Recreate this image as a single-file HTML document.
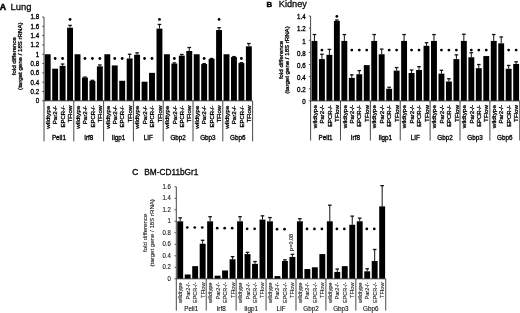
<!DOCTYPE html>
<html><head><meta charset="utf-8"><style>
html,body{margin:0;padding:0;background:#fff;}
body{width:520px;height:313px;overflow:hidden;}
svg{display:block;font-family:"Liberation Sans", sans-serif;filter:blur(0.4px);}
.bold text{fill:#000;stroke:#000;stroke-width:0.3px;}
.tt{stroke:#000;stroke-width:0.3px;}
.lite text{fill:#222;stroke:#222;stroke-width:0.12px;}
.lite text.gn{fill:#111;stroke:#111;stroke-width:0.12px;}
</style></head><body>
<svg width="520" height="313" viewBox="0 0 520 313">
<rect width="520" height="313" fill="#fff"/>
<text x="-0.2" y="10.3" font-size="8.8" font-weight="bold" fill="#000" stroke="#000" stroke-width="0.5">A</text>
<text x="10.4" y="9.7" font-size="9.9" textLength="21.0" lengthAdjust="spacingAndGlyphs" fill="#111" class="tt">Lung</text>
<text x="266.6" y="6.5" font-size="7.8" font-weight="bold" fill="#000" stroke="#000" stroke-width="0.45">B</text>
<text x="278.8" y="6.6" font-size="9.2" fill="#111" class="tt">Kidney</text>
<text x="132.3" y="175.4" font-size="8.3" fill="#111" stroke="#111" stroke-width="0.45">C</text>
<text x="144.2" y="175.4" font-size="8.3" fill="#111" class="tt">BM-CD11bGr1</text>
<g class="bold">
<line x1="44" y1="17.01" x2="44" y2="100.8" stroke="#333" stroke-width="0.9"/>
<line x1="42.2" y1="100.8" x2="44" y2="100.8" stroke="#333" stroke-width="0.8"/>
<text transform="translate(39.2,103.2) scale(1,1.06)" x="0" y="0" font-size="6.2" text-anchor="end" fill="#222">0</text>
<line x1="42.2" y1="91.49" x2="44" y2="91.49" stroke="#333" stroke-width="0.8"/>
<text transform="translate(39.2,93.89) scale(1,1.06)" x="0" y="0" font-size="6.2" text-anchor="end" fill="#222">0.2</text>
<line x1="42.2" y1="82.18" x2="44" y2="82.18" stroke="#333" stroke-width="0.8"/>
<text transform="translate(39.2,84.58) scale(1,1.06)" x="0" y="0" font-size="6.2" text-anchor="end" fill="#222">0.4</text>
<line x1="42.2" y1="72.87" x2="44" y2="72.87" stroke="#333" stroke-width="0.8"/>
<text transform="translate(39.2,75.27) scale(1,1.06)" x="0" y="0" font-size="6.2" text-anchor="end" fill="#222">0.6</text>
<line x1="42.2" y1="63.56" x2="44" y2="63.56" stroke="#333" stroke-width="0.8"/>
<text transform="translate(39.2,65.96) scale(1,1.06)" x="0" y="0" font-size="6.2" text-anchor="end" fill="#222">0.8</text>
<line x1="42.2" y1="54.25" x2="44" y2="54.25" stroke="#333" stroke-width="0.8"/>
<text transform="translate(39.2,56.65) scale(1,1.06)" x="0" y="0" font-size="6.2" text-anchor="end" fill="#222">1</text>
<line x1="42.2" y1="44.94" x2="44" y2="44.94" stroke="#333" stroke-width="0.8"/>
<text transform="translate(39.2,47.34) scale(1,1.06)" x="0" y="0" font-size="6.2" text-anchor="end" fill="#222">1.2</text>
<line x1="42.2" y1="35.63" x2="44" y2="35.63" stroke="#333" stroke-width="0.8"/>
<text transform="translate(39.2,38.03) scale(1,1.06)" x="0" y="0" font-size="6.2" text-anchor="end" fill="#222">1.4</text>
<line x1="42.2" y1="26.32" x2="44" y2="26.32" stroke="#333" stroke-width="0.8"/>
<text transform="translate(39.2,28.72) scale(1,1.06)" x="0" y="0" font-size="6.2" text-anchor="end" fill="#222">1.6</text>
<line x1="42.2" y1="17.01" x2="44" y2="17.01" stroke="#333" stroke-width="0.8"/>
<text transform="translate(39.2,19.41) scale(1,1.06)" x="0" y="0" font-size="6.2" text-anchor="end" fill="#222">1.8</text>
<text transform="translate(15.8,56.2) rotate(-90)" x="0" y="0" font-size="6.1" text-anchor="middle" fill="#222">fold difference</text>
<text transform="translate(22.3,56.2) rotate(-90)" x="0" y="0" font-size="6.1" text-anchor="middle" fill="#222">(target gene / 18S rRNA)</text>
<rect x="44.75" y="54.25" width="5.9" height="46.55" fill="#000"/>
<rect x="52.2" y="68.68" width="5.9" height="32.12" fill="#000"/>
<rect x="59.65" y="65.89" width="5.9" height="34.91" fill="#000"/>
<line x1="62.6" y1="65.89" x2="62.6" y2="64.03" stroke="#111" stroke-width="1.0"/>
<line x1="60.8" y1="64.03" x2="64.4" y2="64.03" stroke="#111" stroke-width="1.3"/>
<rect x="67.1" y="27.72" width="5.9" height="73.08" fill="#000"/>
<line x1="70.05" y1="27.72" x2="70.05" y2="25.39" stroke="#111" stroke-width="1.0"/>
<line x1="68.25" y1="25.39" x2="71.85" y2="25.39" stroke="#111" stroke-width="1.3"/>
<rect x="74.55" y="54.25" width="5.9" height="46.55" fill="#000"/>
<rect x="82" y="77.53" width="5.9" height="23.27" fill="#000"/>
<line x1="84.95" y1="77.53" x2="84.95" y2="77.06" stroke="#111" stroke-width="1.0"/>
<line x1="83.15" y1="77.06" x2="86.75" y2="77.06" stroke="#111" stroke-width="1.3"/>
<rect x="89.45" y="80.78" width="5.9" height="20.02" fill="#000"/>
<line x1="92.4" y1="80.78" x2="92.4" y2="80.32" stroke="#111" stroke-width="1.0"/>
<line x1="90.6" y1="80.32" x2="94.2" y2="80.32" stroke="#111" stroke-width="1.3"/>
<rect x="96.9" y="66.35" width="5.9" height="34.45" fill="#000"/>
<line x1="99.85" y1="66.35" x2="99.85" y2="64.96" stroke="#111" stroke-width="1.0"/>
<line x1="98.05" y1="64.96" x2="101.65" y2="64.96" stroke="#111" stroke-width="1.3"/>
<rect x="104.35" y="54.25" width="5.9" height="46.55" fill="#000"/>
<rect x="111.8" y="65.42" width="5.9" height="35.38" fill="#000"/>
<rect x="119.25" y="80.78" width="5.9" height="20.02" fill="#000"/>
<rect x="126.7" y="58.44" width="5.9" height="42.36" fill="#000"/>
<line x1="129.65" y1="58.44" x2="129.65" y2="54.25" stroke="#111" stroke-width="1.0"/>
<line x1="127.85" y1="54.25" x2="131.45" y2="54.25" stroke="#111" stroke-width="1.3"/>
<rect x="134.15" y="54.72" width="5.9" height="46.08" fill="#000"/>
<line x1="137.1" y1="54.72" x2="137.1" y2="52.85" stroke="#111" stroke-width="1.0"/>
<line x1="135.3" y1="52.85" x2="138.9" y2="52.85" stroke="#111" stroke-width="1.3"/>
<rect x="141.6" y="81.71" width="5.9" height="19.09" fill="#000"/>
<rect x="149.05" y="72.87" width="5.9" height="27.93" fill="#000"/>
<rect x="156.5" y="28.65" width="5.9" height="72.15" fill="#000"/>
<line x1="159.45" y1="28.65" x2="159.45" y2="24.46" stroke="#111" stroke-width="1.0"/>
<line x1="157.65" y1="24.46" x2="161.25" y2="24.46" stroke="#111" stroke-width="1.3"/>
<rect x="163.95" y="54.25" width="5.9" height="46.55" fill="#000"/>
<rect x="171.4" y="63.56" width="5.9" height="37.24" fill="#000"/>
<line x1="174.35" y1="63.56" x2="174.35" y2="62.86" stroke="#111" stroke-width="1.0"/>
<line x1="172.55" y1="62.86" x2="176.15" y2="62.86" stroke="#111" stroke-width="1.3"/>
<rect x="178.85" y="55.65" width="5.9" height="45.15" fill="#000"/>
<line x1="181.8" y1="55.65" x2="181.8" y2="54.48" stroke="#111" stroke-width="1.0"/>
<line x1="180" y1="54.48" x2="183.6" y2="54.48" stroke="#111" stroke-width="1.3"/>
<rect x="186.3" y="50.99" width="5.9" height="49.81" fill="#000"/>
<line x1="189.25" y1="50.99" x2="189.25" y2="47.5" stroke="#111" stroke-width="1.0"/>
<line x1="187.45" y1="47.5" x2="191.05" y2="47.5" stroke="#111" stroke-width="1.3"/>
<rect x="193.75" y="54.25" width="5.9" height="46.55" fill="#000"/>
<rect x="201.2" y="64.03" width="5.9" height="36.77" fill="#000"/>
<line x1="204.15" y1="64.03" x2="204.15" y2="63.56" stroke="#111" stroke-width="1.0"/>
<line x1="202.35" y1="63.56" x2="205.95" y2="63.56" stroke="#111" stroke-width="1.3"/>
<rect x="208.65" y="58.91" width="5.9" height="41.89" fill="#000"/>
<line x1="211.6" y1="58.91" x2="211.6" y2="58.44" stroke="#111" stroke-width="1.0"/>
<line x1="209.8" y1="58.44" x2="213.4" y2="58.44" stroke="#111" stroke-width="1.3"/>
<rect x="216.1" y="30.04" width="5.9" height="70.76" fill="#000"/>
<line x1="219.05" y1="30.04" x2="219.05" y2="27.72" stroke="#111" stroke-width="1.0"/>
<line x1="217.25" y1="27.72" x2="220.85" y2="27.72" stroke="#111" stroke-width="1.3"/>
<rect x="223.55" y="54.25" width="5.9" height="46.55" fill="#000"/>
<rect x="231" y="57.04" width="5.9" height="43.76" fill="#000"/>
<line x1="233.95" y1="57.04" x2="233.95" y2="56.58" stroke="#111" stroke-width="1.0"/>
<line x1="232.15" y1="56.58" x2="235.75" y2="56.58" stroke="#111" stroke-width="1.3"/>
<rect x="238.45" y="63.09" width="5.9" height="37.71" fill="#000"/>
<line x1="241.4" y1="63.09" x2="241.4" y2="62.63" stroke="#111" stroke-width="1.0"/>
<line x1="239.6" y1="62.63" x2="243.2" y2="62.63" stroke="#111" stroke-width="1.3"/>
<rect x="245.9" y="46.34" width="5.9" height="54.46" fill="#000"/>
<line x1="248.85" y1="46.34" x2="248.85" y2="43.54" stroke="#111" stroke-width="1.0"/>
<line x1="247.05" y1="43.54" x2="250.65" y2="43.54" stroke="#111" stroke-width="1.3"/>
<circle cx="55.15" cy="58.5" r="1.4" fill="#000"/>
<circle cx="62.6" cy="58.5" r="1.4" fill="#000"/>
<circle cx="84.95" cy="58.5" r="1.4" fill="#000"/>
<circle cx="92.4" cy="58.5" r="1.4" fill="#000"/>
<circle cx="99.85" cy="58.5" r="1.4" fill="#000"/>
<circle cx="114.75" cy="58.5" r="1.4" fill="#000"/>
<circle cx="122.2" cy="58.5" r="1.4" fill="#000"/>
<circle cx="144.55" cy="58.5" r="1.4" fill="#000"/>
<circle cx="152" cy="58.5" r="1.4" fill="#000"/>
<circle cx="174.35" cy="58.5" r="1.4" fill="#000"/>
<circle cx="204.15" cy="58.5" r="1.4" fill="#000"/>
<circle cx="241.4" cy="58.5" r="1.4" fill="#000"/>
<circle cx="70.05" cy="19.4" r="1.4" fill="#000"/>
<circle cx="159.45" cy="19.4" r="1.4" fill="#000"/>
<circle cx="219.05" cy="19.4" r="1.4" fill="#000"/>
<line x1="44" y1="100.8" x2="252.6" y2="100.8" stroke="#333" stroke-width="0.9"/>
<line x1="44" y1="100.8" x2="44" y2="141.4" stroke="#333" stroke-width="0.9"/>
<line x1="73.8" y1="100.8" x2="73.8" y2="141.4" stroke="#333" stroke-width="0.9"/>
<line x1="103.6" y1="100.8" x2="103.6" y2="141.4" stroke="#333" stroke-width="0.9"/>
<line x1="133.4" y1="100.8" x2="133.4" y2="141.4" stroke="#333" stroke-width="0.9"/>
<line x1="163.2" y1="100.8" x2="163.2" y2="141.4" stroke="#333" stroke-width="0.9"/>
<line x1="193" y1="100.8" x2="193" y2="141.4" stroke="#333" stroke-width="0.9"/>
<line x1="222.8" y1="100.8" x2="222.8" y2="141.4" stroke="#333" stroke-width="0.9"/>
<line x1="252.6" y1="100.8" x2="252.6" y2="141.4" stroke="#333" stroke-width="0.9"/>
<text transform="translate(49.9,105.6) rotate(-90)" x="-23.2" y="0" font-size="6.0" textLength="23.2" lengthAdjust="spacingAndGlyphs" fill="#222">wildtype</text>
<text transform="translate(57.35,105.6) rotate(-90)" x="-18.6" y="0" font-size="6.0" textLength="18.6" lengthAdjust="spacingAndGlyphs" fill="#222">Par2-/-</text>
<text transform="translate(64.8,105.6) rotate(-90)" x="-21.8" y="0" font-size="6.0" textLength="21.8" lengthAdjust="spacingAndGlyphs" fill="#222">EPCR-/-</text>
<text transform="translate(72.25,105.6) rotate(-90)" x="-16.9" y="0" font-size="6.0" textLength="16.9" lengthAdjust="spacingAndGlyphs" fill="#222">TFlow</text>
<text transform="translate(79.7,105.6) rotate(-90)" x="-23.2" y="0" font-size="6.0" textLength="23.2" lengthAdjust="spacingAndGlyphs" fill="#222">wildtype</text>
<text transform="translate(87.15,105.6) rotate(-90)" x="-18.6" y="0" font-size="6.0" textLength="18.6" lengthAdjust="spacingAndGlyphs" fill="#222">Par2-/-</text>
<text transform="translate(94.6,105.6) rotate(-90)" x="-21.8" y="0" font-size="6.0" textLength="21.8" lengthAdjust="spacingAndGlyphs" fill="#222">EPCR-/-</text>
<text transform="translate(102.05,105.6) rotate(-90)" x="-16.9" y="0" font-size="6.0" textLength="16.9" lengthAdjust="spacingAndGlyphs" fill="#222">TFlow</text>
<text transform="translate(109.5,105.6) rotate(-90)" x="-23.2" y="0" font-size="6.0" textLength="23.2" lengthAdjust="spacingAndGlyphs" fill="#222">wildtype</text>
<text transform="translate(116.95,105.6) rotate(-90)" x="-18.6" y="0" font-size="6.0" textLength="18.6" lengthAdjust="spacingAndGlyphs" fill="#222">Par2-/-</text>
<text transform="translate(124.4,105.6) rotate(-90)" x="-21.8" y="0" font-size="6.0" textLength="21.8" lengthAdjust="spacingAndGlyphs" fill="#222">EPCR-/-</text>
<text transform="translate(131.85,105.6) rotate(-90)" x="-16.9" y="0" font-size="6.0" textLength="16.9" lengthAdjust="spacingAndGlyphs" fill="#222">TFlow</text>
<text transform="translate(139.3,105.6) rotate(-90)" x="-23.2" y="0" font-size="6.0" textLength="23.2" lengthAdjust="spacingAndGlyphs" fill="#222">wildtype</text>
<text transform="translate(146.75,105.6) rotate(-90)" x="-18.6" y="0" font-size="6.0" textLength="18.6" lengthAdjust="spacingAndGlyphs" fill="#222">Par2-/-</text>
<text transform="translate(154.2,105.6) rotate(-90)" x="-21.8" y="0" font-size="6.0" textLength="21.8" lengthAdjust="spacingAndGlyphs" fill="#222">EPCR-/-</text>
<text transform="translate(161.65,105.6) rotate(-90)" x="-16.9" y="0" font-size="6.0" textLength="16.9" lengthAdjust="spacingAndGlyphs" fill="#222">TFlow</text>
<text transform="translate(169.1,105.6) rotate(-90)" x="-23.2" y="0" font-size="6.0" textLength="23.2" lengthAdjust="spacingAndGlyphs" fill="#222">wildtype</text>
<text transform="translate(176.55,105.6) rotate(-90)" x="-18.6" y="0" font-size="6.0" textLength="18.6" lengthAdjust="spacingAndGlyphs" fill="#222">Par2-/-</text>
<text transform="translate(184,105.6) rotate(-90)" x="-21.8" y="0" font-size="6.0" textLength="21.8" lengthAdjust="spacingAndGlyphs" fill="#222">EPCR-/-</text>
<text transform="translate(191.45,105.6) rotate(-90)" x="-16.9" y="0" font-size="6.0" textLength="16.9" lengthAdjust="spacingAndGlyphs" fill="#222">TFlow</text>
<text transform="translate(198.9,105.6) rotate(-90)" x="-23.2" y="0" font-size="6.0" textLength="23.2" lengthAdjust="spacingAndGlyphs" fill="#222">wildtype</text>
<text transform="translate(206.35,105.6) rotate(-90)" x="-18.6" y="0" font-size="6.0" textLength="18.6" lengthAdjust="spacingAndGlyphs" fill="#222">Par2-/-</text>
<text transform="translate(213.8,105.6) rotate(-90)" x="-21.8" y="0" font-size="6.0" textLength="21.8" lengthAdjust="spacingAndGlyphs" fill="#222">EPCR-/-</text>
<text transform="translate(221.25,105.6) rotate(-90)" x="-16.9" y="0" font-size="6.0" textLength="16.9" lengthAdjust="spacingAndGlyphs" fill="#222">TFlow</text>
<text transform="translate(228.7,105.6) rotate(-90)" x="-23.2" y="0" font-size="6.0" textLength="23.2" lengthAdjust="spacingAndGlyphs" fill="#222">wildtype</text>
<text transform="translate(236.15,105.6) rotate(-90)" x="-18.6" y="0" font-size="6.0" textLength="18.6" lengthAdjust="spacingAndGlyphs" fill="#222">Par2-/-</text>
<text transform="translate(243.6,105.6) rotate(-90)" x="-21.8" y="0" font-size="6.0" textLength="21.8" lengthAdjust="spacingAndGlyphs" fill="#222">EPCR-/-</text>
<text transform="translate(251.05,105.6) rotate(-90)" x="-16.9" y="0" font-size="6.0" textLength="16.9" lengthAdjust="spacingAndGlyphs" fill="#222">TFlow</text>
<text x="58.9" y="139.8" font-size="6.3" text-anchor="middle" fill="#111" class="gn">Peli1</text>
<text x="88.7" y="139.8" font-size="6.3" text-anchor="middle" fill="#111" class="gn">Irf8</text>
<text x="118.5" y="139.8" font-size="6.3" text-anchor="middle" fill="#111" class="gn">Iigp1</text>
<text x="148.3" y="139.8" font-size="6.3" text-anchor="middle" fill="#111" class="gn">LIF</text>
<text x="178.1" y="139.8" font-size="6.3" text-anchor="middle" fill="#111" class="gn">Gbp2</text>
<text x="207.9" y="139.8" font-size="6.3" text-anchor="middle" fill="#111" class="gn">Gbp3</text>
<text x="237.7" y="139.8" font-size="6.3" text-anchor="middle" fill="#111" class="gn">Gbp6</text>
</g>
<g class="bold">
<line x1="310.6" y1="16.06" x2="310.6" y2="100.9" stroke="#333" stroke-width="0.9"/>
<line x1="308.8" y1="100.9" x2="310.6" y2="100.9" stroke="#333" stroke-width="0.8"/>
<text transform="translate(305.6,104.1) scale(1,1.15)" x="0" y="0" font-size="6.2" text-anchor="end" fill="#222">0</text>
<line x1="308.8" y1="88.78" x2="310.6" y2="88.78" stroke="#333" stroke-width="0.8"/>
<text transform="translate(305.6,91.98) scale(1,1.15)" x="0" y="0" font-size="6.2" text-anchor="end" fill="#222">0.2</text>
<line x1="308.8" y1="76.66" x2="310.6" y2="76.66" stroke="#333" stroke-width="0.8"/>
<text transform="translate(305.6,79.86) scale(1,1.15)" x="0" y="0" font-size="6.2" text-anchor="end" fill="#222">0.4</text>
<line x1="308.8" y1="64.54" x2="310.6" y2="64.54" stroke="#333" stroke-width="0.8"/>
<text transform="translate(305.6,67.74) scale(1,1.15)" x="0" y="0" font-size="6.2" text-anchor="end" fill="#222">0.6</text>
<line x1="308.8" y1="52.42" x2="310.6" y2="52.42" stroke="#333" stroke-width="0.8"/>
<text transform="translate(305.6,55.62) scale(1,1.15)" x="0" y="0" font-size="6.2" text-anchor="end" fill="#222">0.8</text>
<line x1="308.8" y1="40.3" x2="310.6" y2="40.3" stroke="#333" stroke-width="0.8"/>
<text transform="translate(305.6,43.5) scale(1,1.15)" x="0" y="0" font-size="6.2" text-anchor="end" fill="#222">1</text>
<line x1="308.8" y1="28.18" x2="310.6" y2="28.18" stroke="#333" stroke-width="0.8"/>
<text transform="translate(305.6,31.38) scale(1,1.15)" x="0" y="0" font-size="6.2" text-anchor="end" fill="#222">1.2</text>
<line x1="308.8" y1="16.06" x2="310.6" y2="16.06" stroke="#333" stroke-width="0.8"/>
<text transform="translate(305.6,19.26) scale(1,1.15)" x="0" y="0" font-size="6.2" text-anchor="end" fill="#222">1.4</text>
<text transform="translate(283.2,60) rotate(-90)" x="0" y="0" font-size="6.1" text-anchor="middle" fill="#222">fold difference</text>
<text transform="translate(289,60) rotate(-90)" x="0" y="0" font-size="6.1" text-anchor="middle" fill="#222">(target gene / 18S rRNA)</text>
<rect x="311.5" y="40.91" width="5.9" height="59.99" fill="#000"/>
<line x1="314.45" y1="40.91" x2="314.45" y2="34.54" stroke="#111" stroke-width="1.0"/>
<line x1="312.65" y1="34.54" x2="316.25" y2="34.54" stroke="#111" stroke-width="1.3"/>
<rect x="318.97" y="59.09" width="5.9" height="41.81" fill="#000"/>
<line x1="321.92" y1="59.09" x2="321.92" y2="54.24" stroke="#111" stroke-width="1.0"/>
<line x1="320.12" y1="54.24" x2="323.72" y2="54.24" stroke="#111" stroke-width="1.3"/>
<rect x="326.44" y="54.84" width="5.9" height="46.06" fill="#000"/>
<line x1="329.39" y1="54.84" x2="329.39" y2="49.39" stroke="#111" stroke-width="1.0"/>
<line x1="327.59" y1="49.39" x2="331.19" y2="49.39" stroke="#111" stroke-width="1.3"/>
<rect x="333.91" y="20.91" width="5.9" height="79.99" fill="#000"/>
<line x1="336.86" y1="20.91" x2="336.86" y2="20" stroke="#111" stroke-width="1.0"/>
<line x1="335.06" y1="20" x2="338.66" y2="20" stroke="#111" stroke-width="1.3"/>
<rect x="341.38" y="40.91" width="5.9" height="59.99" fill="#000"/>
<line x1="344.33" y1="40.91" x2="344.33" y2="34.54" stroke="#111" stroke-width="1.0"/>
<line x1="342.53" y1="34.54" x2="346.13" y2="34.54" stroke="#111" stroke-width="1.3"/>
<rect x="348.85" y="77.87" width="5.9" height="23.03" fill="#000"/>
<line x1="351.8" y1="77.87" x2="351.8" y2="74.84" stroke="#111" stroke-width="1.0"/>
<line x1="350" y1="74.84" x2="353.6" y2="74.84" stroke="#111" stroke-width="1.3"/>
<rect x="356.32" y="74.24" width="5.9" height="26.66" fill="#000"/>
<line x1="359.27" y1="74.24" x2="359.27" y2="70.6" stroke="#111" stroke-width="1.0"/>
<line x1="357.47" y1="70.6" x2="361.07" y2="70.6" stroke="#111" stroke-width="1.3"/>
<rect x="363.79" y="65.15" width="5.9" height="35.75" fill="#000"/>
<rect x="371.26" y="40.91" width="5.9" height="59.99" fill="#000"/>
<line x1="374.21" y1="40.91" x2="374.21" y2="34.54" stroke="#111" stroke-width="1.0"/>
<line x1="372.41" y1="34.54" x2="376.01" y2="34.54" stroke="#111" stroke-width="1.3"/>
<rect x="378.73" y="54.24" width="5.9" height="46.66" fill="#000"/>
<line x1="381.68" y1="54.24" x2="381.68" y2="49.09" stroke="#111" stroke-width="1.0"/>
<line x1="379.88" y1="49.09" x2="383.48" y2="49.09" stroke="#111" stroke-width="1.3"/>
<rect x="386.2" y="88.78" width="5.9" height="12.12" fill="#000"/>
<line x1="389.15" y1="88.78" x2="389.15" y2="87.27" stroke="#111" stroke-width="1.0"/>
<line x1="387.35" y1="87.27" x2="390.95" y2="87.27" stroke="#111" stroke-width="1.3"/>
<rect x="393.67" y="70.6" width="5.9" height="30.3" fill="#000"/>
<line x1="396.62" y1="70.6" x2="396.62" y2="67.57" stroke="#111" stroke-width="1.0"/>
<line x1="394.82" y1="67.57" x2="398.42" y2="67.57" stroke="#111" stroke-width="1.3"/>
<rect x="401.14" y="40.91" width="5.9" height="59.99" fill="#000"/>
<line x1="404.09" y1="40.91" x2="404.09" y2="34.54" stroke="#111" stroke-width="1.0"/>
<line x1="402.29" y1="34.54" x2="405.89" y2="34.54" stroke="#111" stroke-width="1.3"/>
<rect x="408.61" y="73.02" width="5.9" height="27.88" fill="#000"/>
<line x1="411.56" y1="73.02" x2="411.56" y2="69.99" stroke="#111" stroke-width="1.0"/>
<line x1="409.76" y1="69.99" x2="413.36" y2="69.99" stroke="#111" stroke-width="1.3"/>
<rect x="416.08" y="69.99" width="5.9" height="30.91" fill="#000"/>
<line x1="419.03" y1="69.99" x2="419.03" y2="66.66" stroke="#111" stroke-width="1.0"/>
<line x1="417.23" y1="66.66" x2="420.83" y2="66.66" stroke="#111" stroke-width="1.3"/>
<rect x="423.55" y="45.75" width="5.9" height="55.15" fill="#000"/>
<line x1="426.5" y1="45.75" x2="426.5" y2="42.72" stroke="#111" stroke-width="1.0"/>
<line x1="424.7" y1="42.72" x2="428.3" y2="42.72" stroke="#111" stroke-width="1.3"/>
<rect x="431.02" y="40.91" width="5.9" height="59.99" fill="#000"/>
<line x1="433.97" y1="40.91" x2="433.97" y2="34.54" stroke="#111" stroke-width="1.0"/>
<line x1="432.17" y1="34.54" x2="435.77" y2="34.54" stroke="#111" stroke-width="1.3"/>
<rect x="438.49" y="73.63" width="5.9" height="27.27" fill="#000"/>
<line x1="441.44" y1="73.63" x2="441.44" y2="70.3" stroke="#111" stroke-width="1.0"/>
<line x1="439.64" y1="70.3" x2="443.24" y2="70.3" stroke="#111" stroke-width="1.3"/>
<rect x="445.96" y="81.51" width="5.9" height="19.39" fill="#000"/>
<line x1="448.91" y1="81.51" x2="448.91" y2="78.78" stroke="#111" stroke-width="1.0"/>
<line x1="447.11" y1="78.78" x2="450.71" y2="78.78" stroke="#111" stroke-width="1.3"/>
<rect x="453.43" y="59.09" width="5.9" height="41.81" fill="#000"/>
<line x1="456.38" y1="59.09" x2="456.38" y2="54.84" stroke="#111" stroke-width="1.0"/>
<line x1="454.58" y1="54.84" x2="458.18" y2="54.84" stroke="#111" stroke-width="1.3"/>
<rect x="460.9" y="40.91" width="5.9" height="59.99" fill="#000"/>
<line x1="463.85" y1="40.91" x2="463.85" y2="34.24" stroke="#111" stroke-width="1.0"/>
<line x1="462.05" y1="34.24" x2="465.65" y2="34.24" stroke="#111" stroke-width="1.3"/>
<rect x="468.37" y="57.27" width="5.9" height="43.63" fill="#000"/>
<line x1="471.32" y1="57.27" x2="471.32" y2="52.72" stroke="#111" stroke-width="1.0"/>
<line x1="469.52" y1="52.72" x2="473.12" y2="52.72" stroke="#111" stroke-width="1.3"/>
<rect x="475.84" y="68.18" width="5.9" height="32.72" fill="#000"/>
<line x1="478.79" y1="68.18" x2="478.79" y2="64.54" stroke="#111" stroke-width="1.0"/>
<line x1="476.99" y1="64.54" x2="480.59" y2="64.54" stroke="#111" stroke-width="1.3"/>
<rect x="483.31" y="56.06" width="5.9" height="44.84" fill="#000"/>
<rect x="490.78" y="40.91" width="5.9" height="59.99" fill="#000"/>
<line x1="493.73" y1="40.91" x2="493.73" y2="34.54" stroke="#111" stroke-width="1.0"/>
<line x1="491.93" y1="34.54" x2="495.53" y2="34.54" stroke="#111" stroke-width="1.3"/>
<rect x="498.25" y="43.33" width="5.9" height="57.57" fill="#000"/>
<line x1="501.2" y1="43.33" x2="501.2" y2="36.97" stroke="#111" stroke-width="1.0"/>
<line x1="499.4" y1="36.97" x2="503" y2="36.97" stroke="#111" stroke-width="1.3"/>
<rect x="505.72" y="68.78" width="5.9" height="32.12" fill="#000"/>
<line x1="508.67" y1="68.78" x2="508.67" y2="65.45" stroke="#111" stroke-width="1.0"/>
<line x1="506.87" y1="65.45" x2="510.47" y2="65.45" stroke="#111" stroke-width="1.3"/>
<rect x="513.19" y="63.93" width="5.9" height="36.97" fill="#000"/>
<line x1="516.14" y1="63.93" x2="516.14" y2="61.81" stroke="#111" stroke-width="1.0"/>
<line x1="514.34" y1="61.81" x2="517.94" y2="61.81" stroke="#111" stroke-width="1.3"/>
<circle cx="321.92" cy="50.1" r="1.4" fill="#000"/>
<circle cx="351.8" cy="50.1" r="1.4" fill="#000"/>
<circle cx="359.27" cy="50.1" r="1.4" fill="#000"/>
<circle cx="366.74" cy="50.1" r="1.4" fill="#000"/>
<circle cx="389.15" cy="50.1" r="1.4" fill="#000"/>
<circle cx="396.62" cy="50.1" r="1.4" fill="#000"/>
<circle cx="411.56" cy="50.1" r="1.4" fill="#000"/>
<circle cx="419.03" cy="50.1" r="1.4" fill="#000"/>
<circle cx="441.44" cy="50.1" r="1.4" fill="#000"/>
<circle cx="448.91" cy="50.1" r="1.4" fill="#000"/>
<circle cx="456.38" cy="50.1" r="1.4" fill="#000"/>
<circle cx="471.32" cy="50.1" r="1.4" fill="#000"/>
<circle cx="478.79" cy="50.1" r="1.4" fill="#000"/>
<circle cx="486.26" cy="50.1" r="1.4" fill="#000"/>
<circle cx="508.67" cy="50.1" r="1.4" fill="#000"/>
<circle cx="516.14" cy="50.1" r="1.4" fill="#000"/>
<circle cx="336.86" cy="16.4" r="1.4" fill="#000"/>
<line x1="310.6" y1="100.9" x2="519.76" y2="100.9" stroke="#333" stroke-width="0.9"/>
<line x1="310.6" y1="100.9" x2="310.6" y2="140.5" stroke="#333" stroke-width="0.9"/>
<line x1="340.48" y1="100.9" x2="340.48" y2="140.5" stroke="#333" stroke-width="0.9"/>
<line x1="370.36" y1="100.9" x2="370.36" y2="140.5" stroke="#333" stroke-width="0.9"/>
<line x1="400.24" y1="100.9" x2="400.24" y2="140.5" stroke="#333" stroke-width="0.9"/>
<line x1="430.12" y1="100.9" x2="430.12" y2="140.5" stroke="#333" stroke-width="0.9"/>
<line x1="460" y1="100.9" x2="460" y2="140.5" stroke="#333" stroke-width="0.9"/>
<line x1="489.88" y1="100.9" x2="489.88" y2="140.5" stroke="#333" stroke-width="0.9"/>
<line x1="519.76" y1="100.9" x2="519.76" y2="140.5" stroke="#333" stroke-width="0.9"/>
<text transform="translate(316.65,105) rotate(-90)" x="-23.2" y="0" font-size="6.0" textLength="23.2" lengthAdjust="spacingAndGlyphs" fill="#222">wildtype</text>
<text transform="translate(324.12,105) rotate(-90)" x="-18.6" y="0" font-size="6.0" textLength="18.6" lengthAdjust="spacingAndGlyphs" fill="#222">Par2-/-</text>
<text transform="translate(331.59,105) rotate(-90)" x="-21.8" y="0" font-size="6.0" textLength="21.8" lengthAdjust="spacingAndGlyphs" fill="#222">EPCR-/-</text>
<text transform="translate(339.06,105) rotate(-90)" x="-16.9" y="0" font-size="6.0" textLength="16.9" lengthAdjust="spacingAndGlyphs" fill="#222">TFlow</text>
<text transform="translate(346.53,105) rotate(-90)" x="-23.2" y="0" font-size="6.0" textLength="23.2" lengthAdjust="spacingAndGlyphs" fill="#222">wildtype</text>
<text transform="translate(354,105) rotate(-90)" x="-18.6" y="0" font-size="6.0" textLength="18.6" lengthAdjust="spacingAndGlyphs" fill="#222">Par2-/-</text>
<text transform="translate(361.47,105) rotate(-90)" x="-21.8" y="0" font-size="6.0" textLength="21.8" lengthAdjust="spacingAndGlyphs" fill="#222">EPCR-/-</text>
<text transform="translate(368.94,105) rotate(-90)" x="-16.9" y="0" font-size="6.0" textLength="16.9" lengthAdjust="spacingAndGlyphs" fill="#222">TFlow</text>
<text transform="translate(376.41,105) rotate(-90)" x="-23.2" y="0" font-size="6.0" textLength="23.2" lengthAdjust="spacingAndGlyphs" fill="#222">wildtype</text>
<text transform="translate(383.88,105) rotate(-90)" x="-18.6" y="0" font-size="6.0" textLength="18.6" lengthAdjust="spacingAndGlyphs" fill="#222">Par2-/-</text>
<text transform="translate(391.35,105) rotate(-90)" x="-21.8" y="0" font-size="6.0" textLength="21.8" lengthAdjust="spacingAndGlyphs" fill="#222">EPCR-/-</text>
<text transform="translate(398.82,105) rotate(-90)" x="-16.9" y="0" font-size="6.0" textLength="16.9" lengthAdjust="spacingAndGlyphs" fill="#222">TFlow</text>
<text transform="translate(406.29,105) rotate(-90)" x="-23.2" y="0" font-size="6.0" textLength="23.2" lengthAdjust="spacingAndGlyphs" fill="#222">wildtype</text>
<text transform="translate(413.76,105) rotate(-90)" x="-18.6" y="0" font-size="6.0" textLength="18.6" lengthAdjust="spacingAndGlyphs" fill="#222">Par2-/-</text>
<text transform="translate(421.23,105) rotate(-90)" x="-21.8" y="0" font-size="6.0" textLength="21.8" lengthAdjust="spacingAndGlyphs" fill="#222">EPCR-/-</text>
<text transform="translate(428.7,105) rotate(-90)" x="-16.9" y="0" font-size="6.0" textLength="16.9" lengthAdjust="spacingAndGlyphs" fill="#222">TFlow</text>
<text transform="translate(436.17,105) rotate(-90)" x="-23.2" y="0" font-size="6.0" textLength="23.2" lengthAdjust="spacingAndGlyphs" fill="#222">wildtype</text>
<text transform="translate(443.64,105) rotate(-90)" x="-18.6" y="0" font-size="6.0" textLength="18.6" lengthAdjust="spacingAndGlyphs" fill="#222">Par2-/-</text>
<text transform="translate(451.11,105) rotate(-90)" x="-21.8" y="0" font-size="6.0" textLength="21.8" lengthAdjust="spacingAndGlyphs" fill="#222">EPCR-/-</text>
<text transform="translate(458.58,105) rotate(-90)" x="-16.9" y="0" font-size="6.0" textLength="16.9" lengthAdjust="spacingAndGlyphs" fill="#222">TFlow</text>
<text transform="translate(466.05,105) rotate(-90)" x="-23.2" y="0" font-size="6.0" textLength="23.2" lengthAdjust="spacingAndGlyphs" fill="#222">wildtype</text>
<text transform="translate(473.52,105) rotate(-90)" x="-18.6" y="0" font-size="6.0" textLength="18.6" lengthAdjust="spacingAndGlyphs" fill="#222">Par2-/-</text>
<text transform="translate(480.99,105) rotate(-90)" x="-21.8" y="0" font-size="6.0" textLength="21.8" lengthAdjust="spacingAndGlyphs" fill="#222">EPCR-/-</text>
<text transform="translate(488.46,105) rotate(-90)" x="-16.9" y="0" font-size="6.0" textLength="16.9" lengthAdjust="spacingAndGlyphs" fill="#222">TFlow</text>
<text transform="translate(495.93,105) rotate(-90)" x="-23.2" y="0" font-size="6.0" textLength="23.2" lengthAdjust="spacingAndGlyphs" fill="#222">wildtype</text>
<text transform="translate(503.4,105) rotate(-90)" x="-18.6" y="0" font-size="6.0" textLength="18.6" lengthAdjust="spacingAndGlyphs" fill="#222">Par2-/-</text>
<text transform="translate(510.87,105) rotate(-90)" x="-21.8" y="0" font-size="6.0" textLength="21.8" lengthAdjust="spacingAndGlyphs" fill="#222">EPCR-/-</text>
<text transform="translate(518.34,105) rotate(-90)" x="-16.9" y="0" font-size="6.0" textLength="16.9" lengthAdjust="spacingAndGlyphs" fill="#222">TFlow</text>
<text x="325.54" y="139.6" font-size="6.3" text-anchor="middle" fill="#111" class="gn">Peli1</text>
<text x="355.42" y="139.6" font-size="6.3" text-anchor="middle" fill="#111" class="gn">Irf8</text>
<text x="385.3" y="139.6" font-size="6.3" text-anchor="middle" fill="#111" class="gn">Iigp1</text>
<text x="415.18" y="139.6" font-size="6.3" text-anchor="middle" fill="#111" class="gn">LIF</text>
<text x="445.06" y="139.6" font-size="6.3" text-anchor="middle" fill="#111" class="gn">Gbp2</text>
<text x="474.94" y="139.6" font-size="6.3" text-anchor="middle" fill="#111" class="gn">Gbp3</text>
<text x="504.82" y="139.6" font-size="6.3" text-anchor="middle" fill="#111" class="gn">Gbp6</text>
</g>
<g class="lite">
<line x1="176.3" y1="186.8" x2="176.3" y2="278.8" stroke="#333" stroke-width="0.9"/>
<line x1="174.5" y1="278.8" x2="176.3" y2="278.8" stroke="#333" stroke-width="0.8"/>
<text transform="translate(170.8,280.8) scale(1,1.15)" x="0" y="0" font-size="6.0" text-anchor="end" fill="#222">0</text>
<line x1="174.5" y1="267.3" x2="176.3" y2="267.3" stroke="#333" stroke-width="0.8"/>
<text transform="translate(170.8,269.3) scale(1,1.15)" x="0" y="0" font-size="6.0" text-anchor="end" fill="#222">0.2</text>
<line x1="174.5" y1="255.8" x2="176.3" y2="255.8" stroke="#333" stroke-width="0.8"/>
<text transform="translate(170.8,257.8) scale(1,1.15)" x="0" y="0" font-size="6.0" text-anchor="end" fill="#222">0.4</text>
<line x1="174.5" y1="244.3" x2="176.3" y2="244.3" stroke="#333" stroke-width="0.8"/>
<text transform="translate(170.8,246.3) scale(1,1.15)" x="0" y="0" font-size="6.0" text-anchor="end" fill="#222">0.6</text>
<line x1="174.5" y1="232.8" x2="176.3" y2="232.8" stroke="#333" stroke-width="0.8"/>
<text transform="translate(170.8,234.8) scale(1,1.15)" x="0" y="0" font-size="6.0" text-anchor="end" fill="#222">0.8</text>
<line x1="174.5" y1="221.3" x2="176.3" y2="221.3" stroke="#333" stroke-width="0.8"/>
<text transform="translate(170.8,223.3) scale(1,1.15)" x="0" y="0" font-size="6.0" text-anchor="end" fill="#222">1</text>
<line x1="174.5" y1="209.8" x2="176.3" y2="209.8" stroke="#333" stroke-width="0.8"/>
<text transform="translate(170.8,211.8) scale(1,1.15)" x="0" y="0" font-size="6.0" text-anchor="end" fill="#222">1.2</text>
<line x1="174.5" y1="198.3" x2="176.3" y2="198.3" stroke="#333" stroke-width="0.8"/>
<text transform="translate(170.8,200.3) scale(1,1.15)" x="0" y="0" font-size="6.0" text-anchor="end" fill="#222">1.4</text>
<line x1="174.5" y1="186.8" x2="176.3" y2="186.8" stroke="#333" stroke-width="0.8"/>
<text transform="translate(170.8,188.8) scale(1,1.15)" x="0" y="0" font-size="6.0" text-anchor="end" fill="#222">1.6</text>
<text transform="translate(147.4,232.8) rotate(-90)" x="0" y="0" font-size="6.1" text-anchor="middle" fill="#222">fold difference</text>
<text transform="translate(154.4,232.8) rotate(-90)" x="0" y="0" font-size="6.1" text-anchor="middle" fill="#222">(target gene / 18S rRNA)</text>
<rect x="177.25" y="221.3" width="5.9" height="57.5" fill="#000"/>
<line x1="180.2" y1="221.3" x2="180.2" y2="217.85" stroke="#111" stroke-width="1.0"/>
<line x1="178.4" y1="217.85" x2="182" y2="217.85" stroke="#111" stroke-width="1.3"/>
<rect x="184.73" y="274.49" width="5.9" height="4.31" fill="#000"/>
<rect x="192.21" y="266.15" width="5.9" height="12.65" fill="#000"/>
<rect x="199.69" y="243.73" width="5.9" height="35.07" fill="#000"/>
<line x1="202.64" y1="243.73" x2="202.64" y2="240.28" stroke="#111" stroke-width="1.0"/>
<line x1="200.84" y1="240.28" x2="204.44" y2="240.28" stroke="#111" stroke-width="1.3"/>
<rect x="207.17" y="221.3" width="5.9" height="57.5" fill="#000"/>
<line x1="210.12" y1="221.3" x2="210.12" y2="216.7" stroke="#111" stroke-width="1.0"/>
<line x1="208.32" y1="216.7" x2="211.92" y2="216.7" stroke="#111" stroke-width="1.3"/>
<rect x="214.65" y="275.69" width="5.9" height="3.11" fill="#000"/>
<rect x="222.13" y="270.46" width="5.9" height="8.34" fill="#000"/>
<rect x="229.61" y="259.25" width="5.9" height="19.55" fill="#000"/>
<line x1="232.56" y1="259.25" x2="232.56" y2="256.66" stroke="#111" stroke-width="1.0"/>
<line x1="230.76" y1="256.66" x2="234.36" y2="256.66" stroke="#111" stroke-width="1.3"/>
<rect x="237.09" y="221.3" width="5.9" height="57.5" fill="#000"/>
<line x1="240.04" y1="221.3" x2="240.04" y2="216.7" stroke="#111" stroke-width="1.0"/>
<line x1="238.24" y1="216.7" x2="241.84" y2="216.7" stroke="#111" stroke-width="1.3"/>
<rect x="244.57" y="254.08" width="5.9" height="24.72" fill="#000"/>
<line x1="247.52" y1="254.08" x2="247.52" y2="252.35" stroke="#111" stroke-width="1.0"/>
<line x1="245.72" y1="252.35" x2="249.32" y2="252.35" stroke="#111" stroke-width="1.3"/>
<rect x="252.05" y="263.85" width="5.9" height="14.95" fill="#000"/>
<line x1="255" y1="263.85" x2="255" y2="261.55" stroke="#111" stroke-width="1.0"/>
<line x1="253.2" y1="261.55" x2="256.8" y2="261.55" stroke="#111" stroke-width="1.3"/>
<rect x="259.53" y="219.58" width="5.9" height="59.22" fill="#000"/>
<line x1="262.48" y1="219.58" x2="262.48" y2="215.84" stroke="#111" stroke-width="1.0"/>
<line x1="260.68" y1="215.84" x2="264.28" y2="215.84" stroke="#111" stroke-width="1.3"/>
<rect x="267.01" y="221.3" width="5.9" height="57.5" fill="#000"/>
<line x1="269.96" y1="221.3" x2="269.96" y2="217.56" stroke="#111" stroke-width="1.0"/>
<line x1="268.16" y1="217.56" x2="271.76" y2="217.56" stroke="#111" stroke-width="1.3"/>
<rect x="274.49" y="276.1" width="5.9" height="2.7" fill="#000"/>
<rect x="281.97" y="260.98" width="5.9" height="17.82" fill="#000"/>
<line x1="284.92" y1="260.98" x2="284.92" y2="259.82" stroke="#111" stroke-width="1.0"/>
<line x1="283.12" y1="259.82" x2="286.72" y2="259.82" stroke="#111" stroke-width="1.3"/>
<rect x="289.45" y="256.95" width="5.9" height="21.85" fill="#000"/>
<line x1="292.4" y1="256.95" x2="292.4" y2="254.36" stroke="#111" stroke-width="1.0"/>
<line x1="290.6" y1="254.36" x2="294.2" y2="254.36" stroke="#111" stroke-width="1.3"/>
<rect x="296.93" y="221.3" width="5.9" height="57.5" fill="#000"/>
<line x1="299.88" y1="221.3" x2="299.88" y2="218.71" stroke="#111" stroke-width="1.0"/>
<line x1="298.08" y1="218.71" x2="301.68" y2="218.71" stroke="#111" stroke-width="1.3"/>
<rect x="304.41" y="269.03" width="5.9" height="9.77" fill="#000"/>
<rect x="311.89" y="267.3" width="5.9" height="11.5" fill="#000"/>
<rect x="319.37" y="254.08" width="5.9" height="24.72" fill="#000"/>
<rect x="326.85" y="221.3" width="5.9" height="57.5" fill="#000"/>
<line x1="329.8" y1="221.3" x2="329.8" y2="205.2" stroke="#111" stroke-width="1.0"/>
<line x1="328" y1="205.2" x2="331.6" y2="205.2" stroke="#111" stroke-width="1.3"/>
<rect x="334.33" y="271.9" width="5.9" height="6.9" fill="#000"/>
<line x1="337.28" y1="271.9" x2="337.28" y2="269.03" stroke="#111" stroke-width="1.0"/>
<line x1="335.48" y1="269.03" x2="339.08" y2="269.03" stroke="#111" stroke-width="1.3"/>
<rect x="341.81" y="266.15" width="5.9" height="12.65" fill="#000"/>
<rect x="349.29" y="224.75" width="5.9" height="54.05" fill="#000"/>
<line x1="352.24" y1="224.75" x2="352.24" y2="216.13" stroke="#111" stroke-width="1.0"/>
<line x1="350.44" y1="216.13" x2="354.04" y2="216.13" stroke="#111" stroke-width="1.3"/>
<rect x="356.77" y="221.3" width="5.9" height="57.5" fill="#000"/>
<line x1="359.72" y1="221.3" x2="359.72" y2="218.14" stroke="#111" stroke-width="1.0"/>
<line x1="357.92" y1="218.14" x2="361.52" y2="218.14" stroke="#111" stroke-width="1.3"/>
<rect x="364.25" y="271.32" width="5.9" height="7.48" fill="#000"/>
<line x1="367.2" y1="271.32" x2="367.2" y2="268.74" stroke="#111" stroke-width="1.0"/>
<line x1="365.4" y1="268.74" x2="369" y2="268.74" stroke="#111" stroke-width="1.3"/>
<rect x="371.73" y="260.98" width="5.9" height="17.82" fill="#000"/>
<line x1="374.68" y1="260.98" x2="374.68" y2="249.48" stroke="#111" stroke-width="1.0"/>
<line x1="372.88" y1="249.48" x2="376.48" y2="249.48" stroke="#111" stroke-width="1.3"/>
<rect x="379.21" y="206.35" width="5.9" height="72.45" fill="#000"/>
<line x1="382.16" y1="206.35" x2="382.16" y2="185.65" stroke="#111" stroke-width="1.0"/>
<line x1="380.36" y1="185.65" x2="383.96" y2="185.65" stroke="#111" stroke-width="1.3"/>
<circle cx="187.28" cy="227.5" r="1.35" fill="#000"/>
<circle cx="194.76" cy="227.5" r="1.35" fill="#000"/>
<circle cx="202.24" cy="227.5" r="1.35" fill="#000"/>
<circle cx="217.2" cy="228.2" r="1.35" fill="#000"/>
<circle cx="224.68" cy="228.2" r="1.35" fill="#000"/>
<circle cx="232.16" cy="228.2" r="1.35" fill="#000"/>
<circle cx="247.12" cy="228.8" r="1.35" fill="#000"/>
<circle cx="254.6" cy="228.8" r="1.35" fill="#000"/>
<circle cx="277.04" cy="229.2" r="1.35" fill="#000"/>
<circle cx="284.52" cy="229.2" r="1.35" fill="#000"/>
<circle cx="306.96" cy="228.9" r="1.35" fill="#000"/>
<circle cx="314.44" cy="228.9" r="1.35" fill="#000"/>
<circle cx="321.92" cy="228.9" r="1.35" fill="#000"/>
<circle cx="336.88" cy="228.9" r="1.35" fill="#000"/>
<circle cx="344.36" cy="228.9" r="1.35" fill="#000"/>
<circle cx="366.8" cy="228.9" r="1.35" fill="#000"/>
<circle cx="374.28" cy="228.9" r="1.35" fill="#000"/>
<line x1="176.3" y1="278.8" x2="385.74" y2="278.8" stroke="#333" stroke-width="0.9"/>
<line x1="176.3" y1="278.8" x2="176.3" y2="310.6" stroke="#333" stroke-width="0.9"/>
<line x1="206.22" y1="278.8" x2="206.22" y2="310.6" stroke="#333" stroke-width="0.9"/>
<line x1="236.14" y1="278.8" x2="236.14" y2="310.6" stroke="#333" stroke-width="0.9"/>
<line x1="266.06" y1="278.8" x2="266.06" y2="310.6" stroke="#333" stroke-width="0.9"/>
<line x1="295.98" y1="278.8" x2="295.98" y2="310.6" stroke="#333" stroke-width="0.9"/>
<line x1="325.9" y1="278.8" x2="325.9" y2="310.6" stroke="#333" stroke-width="0.9"/>
<line x1="355.82" y1="278.8" x2="355.82" y2="310.6" stroke="#333" stroke-width="0.9"/>
<line x1="385.74" y1="278.8" x2="385.74" y2="310.6" stroke="#333" stroke-width="0.9"/>
<text transform="translate(182.2,282.5) rotate(-90)" x="-20.4" y="0" font-size="5.5" textLength="20.4" lengthAdjust="spacingAndGlyphs" fill="#222">wildtype</text>
<text transform="translate(189.68,282.5) rotate(-90)" x="-17" y="0" font-size="5.5" textLength="17" lengthAdjust="spacingAndGlyphs" fill="#222">Par2-/-</text>
<text transform="translate(197.16,282.5) rotate(-90)" x="-20.5" y="0" font-size="5.5" textLength="20.5" lengthAdjust="spacingAndGlyphs" fill="#222">EPCR-/-</text>
<text transform="translate(204.64,282.5) rotate(-90)" x="-15.4" y="0" font-size="5.5" textLength="15.4" lengthAdjust="spacingAndGlyphs" fill="#222">TFlow</text>
<text transform="translate(212.12,282.5) rotate(-90)" x="-20.4" y="0" font-size="5.5" textLength="20.4" lengthAdjust="spacingAndGlyphs" fill="#222">wildtype</text>
<text transform="translate(219.6,282.5) rotate(-90)" x="-17" y="0" font-size="5.5" textLength="17" lengthAdjust="spacingAndGlyphs" fill="#222">Par2-/-</text>
<text transform="translate(227.08,282.5) rotate(-90)" x="-20.5" y="0" font-size="5.5" textLength="20.5" lengthAdjust="spacingAndGlyphs" fill="#222">EPCR-/-</text>
<text transform="translate(234.56,282.5) rotate(-90)" x="-15.4" y="0" font-size="5.5" textLength="15.4" lengthAdjust="spacingAndGlyphs" fill="#222">TFlow</text>
<text transform="translate(242.04,282.5) rotate(-90)" x="-20.4" y="0" font-size="5.5" textLength="20.4" lengthAdjust="spacingAndGlyphs" fill="#222">wildtype</text>
<text transform="translate(249.52,282.5) rotate(-90)" x="-17" y="0" font-size="5.5" textLength="17" lengthAdjust="spacingAndGlyphs" fill="#222">Par2-/-</text>
<text transform="translate(257,282.5) rotate(-90)" x="-20.5" y="0" font-size="5.5" textLength="20.5" lengthAdjust="spacingAndGlyphs" fill="#222">EPCR-/-</text>
<text transform="translate(264.48,282.5) rotate(-90)" x="-15.4" y="0" font-size="5.5" textLength="15.4" lengthAdjust="spacingAndGlyphs" fill="#222">TFlow</text>
<text transform="translate(271.96,282.5) rotate(-90)" x="-20.4" y="0" font-size="5.5" textLength="20.4" lengthAdjust="spacingAndGlyphs" fill="#222">wildtype</text>
<text transform="translate(279.44,282.5) rotate(-90)" x="-17" y="0" font-size="5.5" textLength="17" lengthAdjust="spacingAndGlyphs" fill="#222">Par2-/-</text>
<text transform="translate(286.92,282.5) rotate(-90)" x="-20.5" y="0" font-size="5.5" textLength="20.5" lengthAdjust="spacingAndGlyphs" fill="#222">EPCR-/-</text>
<text transform="translate(294.4,282.5) rotate(-90)" x="-15.4" y="0" font-size="5.5" textLength="15.4" lengthAdjust="spacingAndGlyphs" fill="#222">TFlow</text>
<text transform="translate(301.88,282.5) rotate(-90)" x="-20.4" y="0" font-size="5.5" textLength="20.4" lengthAdjust="spacingAndGlyphs" fill="#222">wildtype</text>
<text transform="translate(309.36,282.5) rotate(-90)" x="-17" y="0" font-size="5.5" textLength="17" lengthAdjust="spacingAndGlyphs" fill="#222">Par2-/-</text>
<text transform="translate(316.84,282.5) rotate(-90)" x="-20.5" y="0" font-size="5.5" textLength="20.5" lengthAdjust="spacingAndGlyphs" fill="#222">EPCR-/-</text>
<text transform="translate(324.32,282.5) rotate(-90)" x="-15.4" y="0" font-size="5.5" textLength="15.4" lengthAdjust="spacingAndGlyphs" fill="#222">TFlow</text>
<text transform="translate(331.8,282.5) rotate(-90)" x="-20.4" y="0" font-size="5.5" textLength="20.4" lengthAdjust="spacingAndGlyphs" fill="#222">wildtype</text>
<text transform="translate(339.28,282.5) rotate(-90)" x="-17" y="0" font-size="5.5" textLength="17" lengthAdjust="spacingAndGlyphs" fill="#222">Par2-/-</text>
<text transform="translate(346.76,282.5) rotate(-90)" x="-20.5" y="0" font-size="5.5" textLength="20.5" lengthAdjust="spacingAndGlyphs" fill="#222">EPCR-/-</text>
<text transform="translate(354.24,282.5) rotate(-90)" x="-15.4" y="0" font-size="5.5" textLength="15.4" lengthAdjust="spacingAndGlyphs" fill="#222">TFlow</text>
<text transform="translate(361.72,282.5) rotate(-90)" x="-20.4" y="0" font-size="5.5" textLength="20.4" lengthAdjust="spacingAndGlyphs" fill="#222">wildtype</text>
<text transform="translate(369.2,282.5) rotate(-90)" x="-17" y="0" font-size="5.5" textLength="17" lengthAdjust="spacingAndGlyphs" fill="#222">Par2-/-</text>
<text transform="translate(376.68,282.5) rotate(-90)" x="-20.5" y="0" font-size="5.5" textLength="20.5" lengthAdjust="spacingAndGlyphs" fill="#222">EPCR-/-</text>
<text transform="translate(384.16,282.5) rotate(-90)" x="-15.4" y="0" font-size="5.5" textLength="15.4" lengthAdjust="spacingAndGlyphs" fill="#222">TFlow</text>
<text x="191.26" y="311.2" font-size="6.3" text-anchor="middle" fill="#111" class="gn">Peli1</text>
<text x="221.18" y="311.2" font-size="6.3" text-anchor="middle" fill="#111" class="gn">Irf8</text>
<text x="251.1" y="311.2" font-size="6.3" text-anchor="middle" fill="#111" class="gn">Iigp1</text>
<text x="281.02" y="311.2" font-size="6.3" text-anchor="middle" fill="#111" class="gn">LIF</text>
<text x="310.94" y="311.2" font-size="6.3" text-anchor="middle" fill="#111" class="gn">Gbp2</text>
<text x="340.86" y="311.2" font-size="6.3" text-anchor="middle" fill="#111" class="gn">Gbp3</text>
<text x="370.78" y="311.2" font-size="6.3" text-anchor="middle" fill="#111" class="gn">Gbp6</text>
</g>
<text transform="translate(293.3,233.9) rotate(-90)" x="-17" y="0" font-size="5.6" textLength="17" lengthAdjust="spacingAndGlyphs" fill="#222" stroke="#222" stroke-width="0.12">p=0.08</text>
</svg>
</body></html>
